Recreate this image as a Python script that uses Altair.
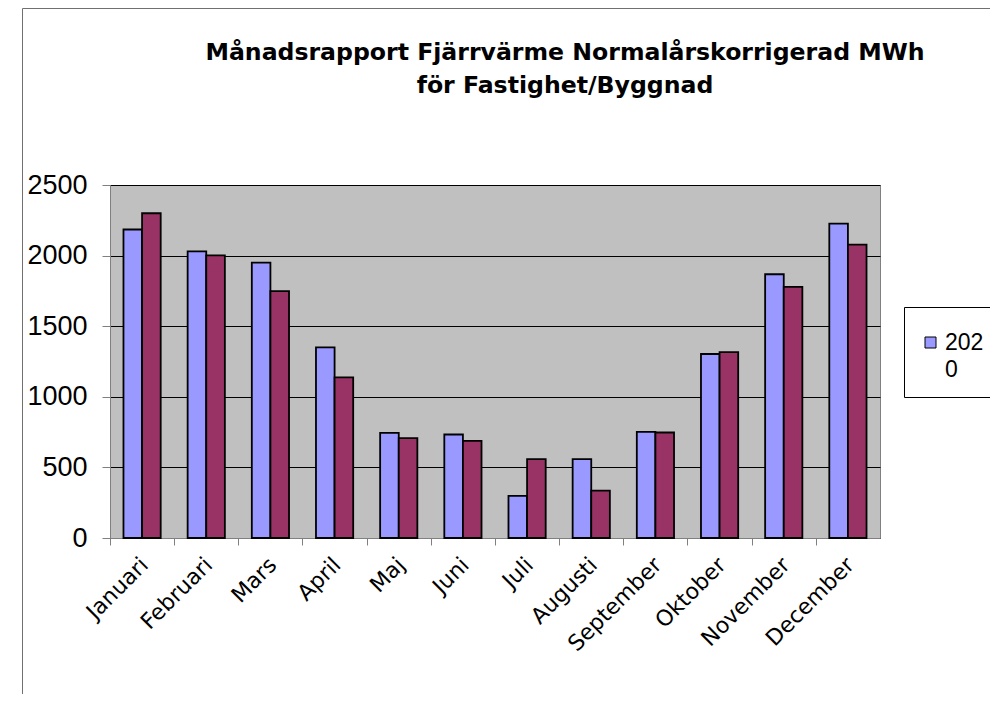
import altair as alt
import pandas as pd

months = ["Januari", "Februari", "Mars", "April", "Maj", "Juni", "Juli",
          "Augusti", "September", "Oktober", "November", "December"]
series_names = ["2020", "2019"]
values_2020 = [2185, 2030, 1950, 1350, 745, 733, 298, 558, 752, 1303, 1868, 2227]
values_other = [2300, 2002, 1749, 1137, 707, 688, 558, 336, 747, 1317, 1778, 2078]
y_ticks = [0, 500, 1000, 1500, 2000, 2500]
colors = ["#9999FF", "#993366"]
title_lines = ["Månadsrapport Fjärrvärme Normalårskorrigerad MWh", "för Fastighet/Byggnad"]

rows = []
for m, a, b in zip(months, values_2020, values_other):
    rows.append({"month": m, "series": series_names[0], "value": a})
    rows.append({"month": m, "series": series_names[1], "value": b})
df = pd.DataFrame(rows)

W, H = 770, 353
step = W / len(months)

bars = alt.Chart(df).mark_bar(stroke="black", strokeWidth=1.8).encode(
    x=alt.X("month:N", sort=months, title=None,
            scale=alt.Scale(paddingInner=0.42, paddingOuter=0.21),
            axis=alt.Axis(labelAngle=315, labelAlign="right", labelBaseline="middle",
                          labelFont="DejaVu Sans", labelFontSize=22, labelColor="black",
                          tickOffset=-step / 2, labelOffset=step / 2 + 2,
                          tickSize=7, tickColor="#808080", domainColor="#808080",
                          labelPadding=16, grid=False)),
    xOffset=alt.XOffset("series:N", sort=series_names,
                        scale=alt.Scale(domain=series_names, paddingInner=0, paddingOuter=0)),
    y=alt.Y("value:Q", title=None,
            scale=alt.Scale(domain=[0, 2500], nice=False),
            axis=alt.Axis(values=y_ticks, format="d", labelFont="Liberation Sans",
                          labelFontSize=27, labelColor="black", tickSize=8,
                          tickColor="#808080", domainColor="#808080", labelPadding=15,
                          gridColor="black", gridWidth=1)),
    color=alt.Color("series:N", sort=series_names,
                    scale=alt.Scale(domain=series_names, range=colors),
                    legend=alt.Legend(values=["2020"], title=" ", titleFontSize=1,
                                      titlePadding=8, orient="none",
                                      legendX=794, legendY=122,
                                      strokeColor="black", fillColor="white",
                                      padding=15, symbolType="square", symbolSize=121,
                                      symbolStrokeColor="black", symbolStrokeWidth=1,
                                      labelOffset=3,
                                      labelFont="Liberation Sans", labelFontSize=23,
                                      labelColor="black",
                                      labelExpr="['202', '0']")),
)

frame = alt.Chart(alt.Data(values=[{}])).mark_rect(
    fill=None, filled=False, stroke="#707070", strokeWidth=1
).encode(
    x=alt.value(-87.5), x2=alt.value(3000),
    y=alt.value(-176.5), y2=alt.value(3000),
)

title = alt.Chart(alt.Data(values=[{"t": title_lines}])).mark_text(
    font="DejaVu Sans", fontSize=23.6, fontWeight="bold", color="black",
    align="center", baseline="alphabetic", lineHeight=33
).encode(
    text="t:N", x=alt.value(455), y=alt.value(-125),
)

chart = alt.layer(frame, bars, title).properties(
    width=W, height=H,
    autosize=alt.AutoSizeParams(type="none"),
    padding={"left": 102, "top": 177, "right": 110, "bottom": 156},
).configure(
    background="white",
    style={"guide-label": {"lineHeight": 27}},
    view=alt.ViewConfig(fill="#C0C0C0", stroke="#808080", strokeWidth=1),
)

chart.save("out.html", embed_options={"renderer": "svg", "actions": False})
